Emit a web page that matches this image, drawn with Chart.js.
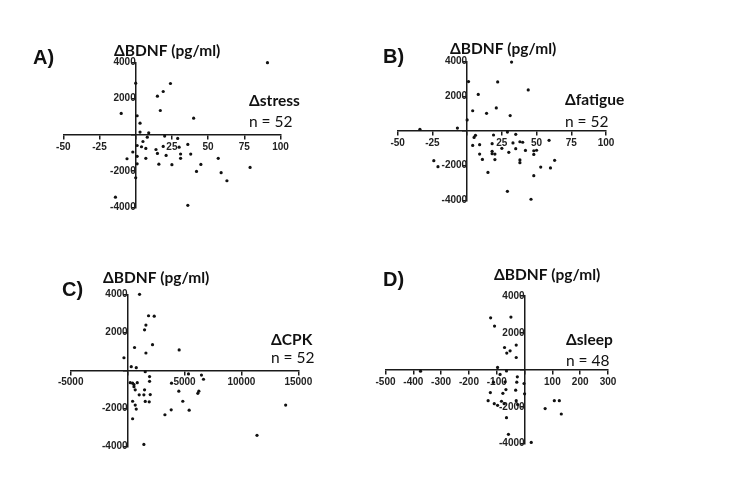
<!DOCTYPE html>
<html>
<head>
<meta charset="utf-8">
<script src="https://cdn.jsdelivr.net/npm/chart.js@4.4.1/dist/chart.umd.min.js"></script>
<style>
  html, body { margin: 0; padding: 0; background: #ffffff; }
  #wrap { position: relative; width: 750px; height: 503px; overflow: hidden; background: #fff; }
  #wrap canvas { position: absolute; left: 0; top: 0; }
</style>
</head>
<body>
<div id="wrap">
  <canvas id="cA" width="750" height="503"></canvas>
  <canvas id="cB" width="750" height="503"></canvas>
  <canvas id="cC" width="750" height="503"></canvas>
  <canvas id="cD" width="750" height="503"></canvas>
</div>
<script>
// ---------- DATA ----------
// Panel A: Δstress vs ΔBDNF
const stressDelta = [-10,0,1,3,3,9,8,5,1,4,7,-2,1,-6,7,1,0,-14,15,19,24,17,40,20,29,19,14,15,21,16,25,31,31,36,38,36,42,45,57,59,63,79,91,30];
const bdnfStress  = [1180,2850,1050,640,150,110,-130,-370,-590,-660,-750,-950,-1190,-1320,-1300,-1600,-2370,-3440,2130,2390,2830,1340,920,-70,-200,-640,-810,-1030,-1140,-1620,-1650,-1060,-1300,-530,-1065,-3890,-2020,-1635,-1300,-2090,-2535,-1800,3980,-680];

// Panel B: Δfatigue vs ΔBDNF
const fatigueDelta = [-34,-7,0,1,8,4,14,21,22,32,31,44,6,5,4,9,9,11,15,19,18,18,18,20,20,25,29,35,33,30,35,38,40,38,38,42,48,50,48,53,48,60,63,59,29,46,-21,-24];
const bdnfFatigue  = [100,170,640,2850,2110,1170,1020,1330,2830,3980,890,2370,-250,-370,-830,-790,-1330,-1640,-2390,-230,-730,-1170,-1310,-1330,-1650,-1000,-60,-190,-690,-1230,-1020,-620,-650,-1670,-1830,-1120,-1140,-1110,-1350,-2080,-2580,-2130,-1690,-540,-3480,-3940,-2060,-1710];

// Panel C: ΔCPK vs ΔBDNF
const cpkDelta = [-320,1050,1840,2340,1610,1490,610,2190,1610,4530,320,760,1550,1930,1930,230,560,850,670,1020,1490,1990,440,670,760,1550,1900,440,1430,3860,4500,4850,3830,3280,5410,5350,6490,6670,6260,6170,13890,11370,440,560,1430];
const bdnfCpk  = [660,4000,2870,2850,2380,2130,1200,1350,910,1070,190,140,-70,-330,-580,-650,-750,-650,-1030,-1290,-1030,-1280,-1630,-1830,-2040,-1640,-1660,-2550,-3900,-680,-1100,-1630,-2080,-2340,-2100,-190,-250,-470,-1100,-1210,-1830,-3420,-680,-860,-1290];

// Panel D: Δsleep vs ΔBDNF
const sleepDelta = [-122,-108,-49,-72,-64,-52,-30,-30,-97,-88,-65,-112,-70,-28,-26,-2,-67,-32,0,-123,-131,-78,-83,-109,-97,-73,-30,-25,-65,-58,24,74,107,125,132,-374];
const bdnfSleep  = [2820,2370,2860,1210,910,1030,1340,670,130,-250,-60,-670,-650,-670,-380,-740,-1070,-1100,-1300,-1230,-1670,-1270,-1700,-1830,-1920,-1830,-1670,-1880,-2590,-3490,-3930,-2100,-1670,-1670,-2390,-70];

// Axis tick settings
const bdnfTicks = { min: -4000, max: 4000, step: 2000 };
const stressTicks = { min: -50, max: 100, step: 25 };
const fatigueTicks = { min: -50, max: 100, step: 25 };
const cpkTicks = { min: -5000, max: 15000, step: 5000 };
const sleepTicks = { min: -500, max: 300, step: 100 };

const yTitle = 'ΔBDNF (pg/ml)';

// ---------- helpers ----------
const INK = '#1a1a1a';
const tickFont = { family: "'Liberation Sans', Arial, sans-serif", size: 10, weight: 'bold' };

const textPlugin = {
  id: 'panelText',
  afterDraw(chart, args, opts) {
    const ctx = chart.ctx;
    ctx.save();
    ctx.textBaseline = 'alphabetic';
    ctx.textAlign = 'left';
    ctx.fillStyle = '#111';
    (opts.items || []).forEach(it => {
      ctx.font = it.font;
      ctx.fillText(it.text, it.x, it.y);
    });
    ctx.restore();
  }
};

function axis(t, posObj) {
  return {
    type: 'linear',
    min: t.min, max: t.max,
    position: posObj,
    ticks: {
      stepSize: t.step,
      autoSkip: false,
      maxRotation: 0,
      font: tickFont,
      color: '#222',
      padding: 1,
      callback: v => (v === 0 ? '' : String(v))
    },
    grid: { display: true, drawOnChartArea: false, drawTicks: true, tickLength: 4, color: INK, lineWidth: 1.5 },
    border: { display: true, color: INK, width: 1.5 }
  };
}

function makePanel(id, xs, ys, xt, area, items) {
  const pts = xs.map((x, i) => ({ x: x, y: ys[i] }));
  const xAxis = axis(xt, { y: 0 });
  xAxis.ticks.padding = 2;
  return new Chart(document.getElementById(id), {
    type: 'scatter',
    data: { datasets: [{ data: pts, clip: false, pointRadius: 1.6, pointBackgroundColor: '#111', pointBorderWidth: 0, pointHoverRadius: 1.6 }] },
    options: {
      responsive: false,
      animation: false,
      events: [],
      layout: { padding: { left: area.l, top: area.t, right: 750 - area.r, bottom: 503 - area.b } },
      plugins: { legend: { display: false }, tooltip: { enabled: false }, panelText: { items: items } },
      scales: { x: xAxis, y: axis(bdnfTicks, { x: 0 }) }
    },
    plugins: [textPlugin]
  });
}

const letterFont = "bold 20px 'Liberation Sans', Arial, sans-serif";
const titleFont = "bold 15.5px Lato, 'Open Sans', sans-serif";
const nFont = "15.5px Lato, 'Open Sans', sans-serif";

makePanel('cA', stressDelta, bdnfStress, stressTicks, { l: 63.3, r: 280.5, t: 62.3, b: 207.3 }, [
  { text: 'A)', x: 33, y: 64, font: letterFont },
  { text: yTitle, x: 114, y: 56, font: titleFont },
  { text: 'Δstress', x: 249, y: 106, font: titleFont },
  { text: 'n = 52', x: 249, y: 127, font: nFont }
]);
makePanel('cB', fatigueDelta, bdnfFatigue, fatigueTicks, { l: 397.7, r: 606, t: 61.7, b: 200.3 }, [
  { text: 'B)', x: 383, y: 63, font: letterFont },
  { text: yTitle, x: 450, y: 54, font: titleFont },
  { text: 'Δfatigue', x: 565, y: 105, font: titleFont },
  { text: 'n = 52', x: 565, y: 127, font: nFont }
]);
makePanel('cC', cpkDelta, bdnfCpk, cpkTicks, { l: 70.7, r: 298.3, t: 294.3, b: 446.3 }, [
  { text: 'C)', x: 62, y: 296, font: letterFont },
  { text: yTitle, x: 103, y: 283, font: titleFont },
  { text: 'ΔCPK', x: 271, y: 345, font: titleFont },
  { text: 'n = 52', x: 271, y: 363, font: nFont }
]);
makePanel('cD', sleepDelta, bdnfSleep, sleepTicks, { l: 385.5, r: 608, t: 296, b: 443.7 }, [
  { text: 'D)', x: 383, y: 286, font: letterFont },
  { text: yTitle, x: 494, y: 280, font: titleFont },
  { text: 'Δsleep', x: 566, y: 345, font: titleFont },
  { text: 'n = 48', x: 566, y: 366, font: nFont }
]);
</script>
</body>
</html>
